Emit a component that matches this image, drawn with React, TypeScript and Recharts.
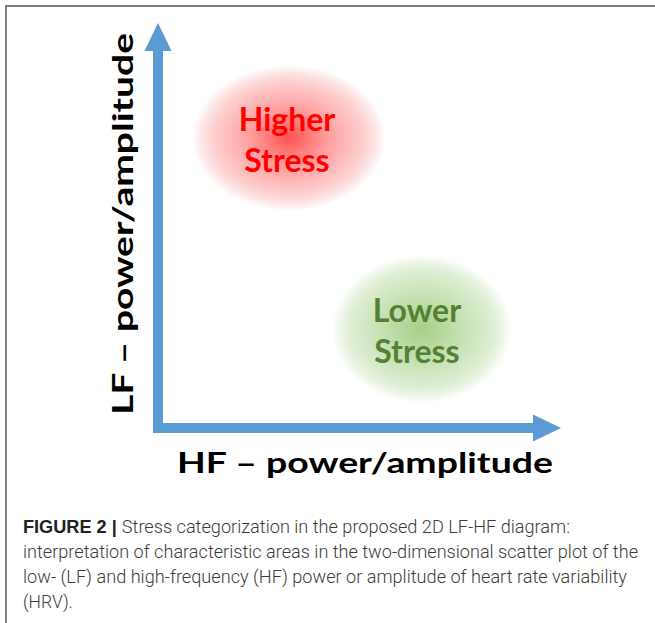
import React from 'react';
import { ScatterChart, Scatter, XAxis, YAxis, ReferenceLine } from 'recharts';

// two characteristic areas in the LF-HF plane (axis units 0..10)
const regionNames = ['Higher Stress', 'Lower Stress'];
const regionHF = [3.25, 6.55];
const regionLF = [7.16, 2.44];
const regionLines = [
	['Higher', 'Stress'],
	['Lower', 'Stress'],
];

const axisDomain = [0, 10];
const xLabel = 'HF \u2013 power/amplitude';
const yLabel = 'LF \u2013 power/amplitude';

const captionBold = 'FIGURE 2 | ';
const captionLines = [
	'Stress categorization in the proposed 2D LF-HF diagram:',
	'interpretation of characteristic areas in the two-dimensional scatter plot of the',
	'low- (LF) and high-frequency (HF) power or amplitude of heart rate variability',
	'(HRV).',
];

const regions = regionNames.map((name, i) => ({
	name,
	hf: regionHF[i],
	lf: regionLF[i],
	lines: regionLines[i],
}));

const ARROW = '#5B9BD5';
const styles = [
	{ id: 'gradHigh', text: '#FF0000', rx: 97, ry: 73, dx: -2, stops: ['#FF5252', '#FF9E9E', '#FDD0D0', '#FDE6E6'] },
	{ id: 'gradLow', text: '#548235', rx: 90, ry: 74, dx: -5, stops: ['#A6CF8A', '#C2DFAE', '#DDEDD2', '#ECF5E6'] },
];

const Arrow = (props: any) => {
	const { x1, y1, x2, y2 } = props;
	const len = Math.hypot(x2 - x1, y2 - y1);
	const ux = (x2 - x1) / len;
	const uy = (y2 - y1) / len;
	const nx = -uy;
	const ny = ux;
	const w = 5;
	const head = 28;
	const hw = 13.5;
	const sx = x1 - ux * w;
	const sy = y1 - uy * w;
	const bx = x2 - ux * head;
	const by = y2 - uy * head;
	const pts = [
		[sx + nx * w, sy + ny * w],
		[bx + nx * w, by + ny * w],
		[bx + nx * hw, by + ny * hw],
		[x2, y2],
		[bx - nx * hw, by - ny * hw],
		[bx - nx * w, by - ny * w],
		[sx - nx * w, sy - ny * w],
	]
		.map(p => p.join(','))
		.join(' ');
	return <polygon points={pts} fill={ARROW} />;
};

const Blob = (props: any) => {
	const { cx, cy, payload, index } = props;
	const s = styles[index] || styles[0];
	return (
		<g>
			<defs>
				<radialGradient id={s.id} cx='50%' cy='50%' r='50%'>
					<stop offset='0%' stopColor={s.stops[0]} />
					<stop offset='40%' stopColor={s.stops[1]} />
					<stop offset='78%' stopColor={s.stops[2]} />
					<stop offset='90%' stopColor={s.stops[3]} />
					<stop offset='100%' stopColor='#FFFFFF' />
				</radialGradient>
			</defs>
			<ellipse cx={cx} cy={cy} rx={s.rx} ry={s.ry} fill={`url(#${s.id})`} />
			<text
				x={cx + s.dx}
				y={cy - 7}
				textAnchor='middle'
				fontFamily='Lato'
				fontWeight={700}
				fontSize={32}
				fill={s.text}
			>
				{payload.lines[0]}
			</text>
			<text
				x={cx + s.dx}
				y={cy + 34}
				textAnchor='middle'
				fontFamily='Lato'
				fontWeight={700}
				fontSize={32}
				fill={s.text}
			>
				{payload.lines[1]}
			</text>
		</g>
	);
};

const App = () => {
	return (
		<div style={{ position: 'absolute', left: 0, top: 0, width: 655, height: 623, background: '#fff' }}>
			<ScatterChart
				width={655}
				height={623}
				margin={{ top: 23, right: 94, bottom: 195, left: 158 }}
			>
				<XAxis type='number' dataKey='hf' domain={axisDomain} hide />
				<YAxis type='number' dataKey='lf' domain={axisDomain} hide />
				<Scatter data={regions} shape={Blob} isAnimationActive={false} />
				<ReferenceLine
					segment={[
						{ x: axisDomain[0], y: axisDomain[0] },
						{ x: axisDomain[1], y: axisDomain[0] },
					]}
					shape={Arrow}
					ifOverflow='visible'
				/>
				<ReferenceLine
					segment={[
						{ x: axisDomain[0], y: axisDomain[0] },
						{ x: axisDomain[0], y: axisDomain[1] },
					]}
					shape={Arrow}
					ifOverflow='visible'
				/>
			</ScatterChart>
			<svg
				width={655}
				height={623}
				style={{ position: 'absolute', left: 0, top: 0, pointerEvents: 'none' }}
			>
				<path d='M6,623 V6 H655' fill='none' stroke='#7F7F7F' strokeWidth={2} />
				<text
					x={365}
					y={473}
					textAnchor='middle'
					fontFamily='Lato'
					fontWeight={700}
					fontSize={28}
					fill='#000'
					textLength={376}
					lengthAdjust='spacingAndGlyphs'
				>
					{xLabel}
				</text>
				<text
					transform='translate(133,224) rotate(-90)'
					textAnchor='middle'
					fontFamily='Lato'
					fontWeight={700}
					fontSize={28}
					fill='#000'
					textLength={382}
					lengthAdjust='spacingAndGlyphs'
				>
					{yLabel}
				</text>
				<text
					x={23}
					y={533}
					fontFamily='Roboto'
					fontWeight={300}
					fontSize={17.5}
					fill='#3b3b3b'
					textLength={547}
					lengthAdjust='spacingAndGlyphs'
				>
					<tspan fontFamily='Liberation Sans' fontWeight={700} fill='#222'>
						{captionBold}
					</tspan>
					{captionLines[0]}
				</text>
				{captionLines.slice(1).map((line, i) => (
					<text
						key={i}
						x={23}
						y={558 + i * 25}
						fontFamily='Roboto'
						fontWeight={300}
						fontSize={17.5}
						fill='#3b3b3b'
						textLength={i === 0 ? 615 : i === 1 ? 604 : undefined}
						lengthAdjust='spacingAndGlyphs'
					>
						{line}
					</text>
				))}
			</svg>
		</div>
	);
};

export default App;
